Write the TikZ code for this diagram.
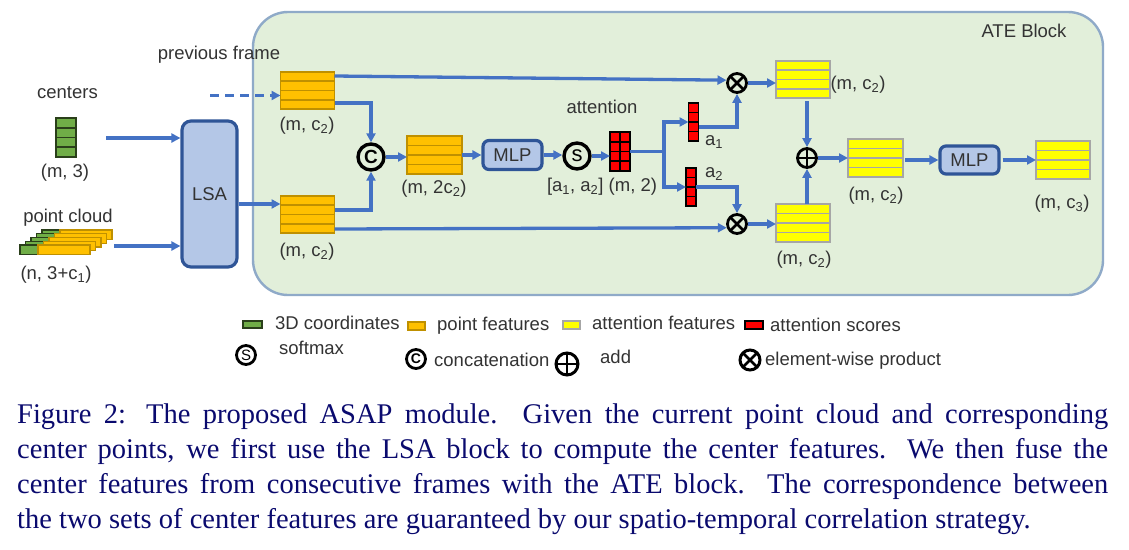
\documentclass[tikz,border=0pt]{standalone}
\usepackage{fontspec}
\setmainfont{Liberation Sans}
\newfontfamily\capfont{Liberation Serif}
\usetikzlibrary{calc,arrows.meta}
\definecolor{ablue}{HTML}{4472C4}
\definecolor{boxfill}{HTML}{B4C7E7}
\definecolor{boxdraw}{HTML}{2F5597}
\definecolor{atefill}{HTML}{E2EFDA}
\definecolor{atedraw}{HTML}{8FAAC8}
\definecolor{orangef}{HTML}{FFC000}
\definecolor{oranged}{HTML}{BF9000}
\definecolor{yellowf}{HTML}{FFFF00}
\definecolor{yellowd}{HTML}{A6A6A6}
\definecolor{greenf}{HTML}{70AD47}
\definecolor{greend}{HTML}{2A3F1A}
\definecolor{redf}{HTML}{FF0000}
\definecolor{capcol}{RGB}{10,10,110}
\definecolor{txt}{HTML}{333333}
\newcommand\rowlines[2]{%
  \foreach \k in {0.25,0.5,0.75}{\draw[#2] ($(#1.north west)!\k!(#1.south west)$) -- ($(#1.north east)!\k!(#1.south east)$);}}
\begin{document}
\begin{tikzpicture}[x=1pt,y=-1pt,
  font=\fontsize{18.5}{21}\selectfont,
  arr/.style={ablue, line width=3.3pt, -{Triangle[length=9pt,width=9pt]}},
  ln/.style={ablue, line width=3.3pt},
  stackbox/.style={rectangle, inner sep=0pt, outer sep=0pt, minimum width=54pt, minimum height=37pt},
  obox/.style={stackbox, fill=orangef, draw=oranged, line width=1.8pt},
  ybox/.style={stackbox, fill=yellowf, draw=yellowd, line width=1.8pt},
  rbar/.style={rectangle, inner sep=0pt, outer sep=0pt, fill=redf, draw=black, line width=1.6pt, minimum width=10pt, minimum height=38pt},
  mlp/.style={rectangle, rounded corners=6pt, fill=boxfill, draw=boxdraw, line width=3.2pt, minimum width=59pt, minimum height=29pt, inner sep=0pt, text=txt},
  opc/.style={circle, draw=black, line width=3.4pt, minimum size=26pt, inner sep=0pt},
  otimes/.style={circle, draw=black, line width=2.8pt, minimum size=19pt, inner sep=0pt,
    path picture={\draw[black, line width=2.8pt] (path picture bounding box.north west) -- (path picture bounding box.south east) (path picture bounding box.north east) -- (path picture bounding box.south west);}},
  oplus/.style={circle, draw=black, line width=2.8pt, minimum size=19pt, inner sep=0pt,
    path picture={\draw[black, line width=2.8pt] (path picture bounding box.north) -- (path picture bounding box.south) (path picture bounding box.west) -- (path picture bounding box.east);}},
  lbl/.style={inner sep=0pt, text=txt, text height=13pt, text depth=4pt},
  leg/.style={rectangle, inner sep=0pt, minimum width=18pt, minimum height=8pt, line width=1.6pt},
  capline/.style={anchor=base west, inner sep=0pt, text=capcol, font=\capfont\fontsize{28.5}{35}\selectfont}
]
\useasboundingbox (0,0) rectangle (1129,549);
\fill[white] (0,0) rectangle (1129,549);

% ATE block
\node[rectangle, rounded corners=35pt, fill=atefill, draw=atedraw, line width=2.4pt, minimum width=850pt, minimum height=283pt, inner sep=0pt] (ate) at (678,153.5) {};
\node[lbl] (atet) at (1024,33) {ATE Block};

% inputs
\node[lbl] (tcent) at (67.5,94) {centers};
\node[rectangle, inner sep=0pt, outer sep=0pt, fill=greenf, draw=greend, line width=1.8pt, minimum width=20pt, minimum height=39pt] (g) at (66,137.5) {};
\rowlines{g}{greend, line width=1.8pt}
\node[lbl] (tm3) at (65,173) {(m, 3)};
\node[lbl] (tpc) at (68,218) {point cloud};
\foreach \i in {4,3,2,1,0}{
  \fill[greenf, draw=greend, line width=1.2pt] ({20+5.5*\i},{245-3.75*\i}) rectangle ++(18,9.5);
  \fill[orangef, draw=oranged, line width=1.2pt] ({38+5.5*\i},{245-3.75*\i}) rectangle ++(52,9.5);
}
\node[lbl] (tn3) at (56,275) {(n, 3+c\textsubscript{1})};
\node[lbl] (tprev) at (219,55) {previous frame};

% LSA
\node[rectangle, rounded corners=9pt, fill=boxfill, draw=boxdraw, line width=3.2pt, minimum width=55pt, minimum height=146pt, inner sep=0pt, text=txt] (lsa) at (209.5,194) {LSA};

% point features
\node[obox] (p1) at (307.5,90.5) {};
\rowlines{p1}{oranged, line width=1.8pt}
\node[obox] (p2) at (307.5,214.5) {};
\rowlines{p2}{oranged, line width=1.8pt}
\node[lbl] (tp1) at (307,126) {(m, c\textsubscript{2})};
\node[lbl] (tp2) at (307,252) {(m, c\textsubscript{2})};

\node[opc, font=\bfseries\fontsize{19}{19}\selectfont] (cc) at (371,157) {C};
\node[obox, minimum width=55pt, minimum height=38pt] (p3) at (434.5,155) {};
\rowlines{p3}{oranged, line width=1.8pt}
\node[lbl] (tp3) at (434,189) {(m, 2c\textsubscript{2})};
\node[mlp] (mlp1) at (512.5,155) {MLP};
\node[opc, font=\fontsize{22}{22}\selectfont] (ss) at (577,156) {s};

% attention scores
\node[rbar, minimum width=20pt, minimum height=39pt] (att) at (620,151.5) {};
\draw[black, line width=1.6pt] (att.north) -- (att.south);
\rowlines{att}{black, line width=1.6pt}
\node[lbl] (tatt) at (602,109) {attention};
\node[lbl] (tatt2) at (602,187) {[a\textsubscript{1}, a\textsubscript{2}] (m, 2)};
\node[rbar] (a1) at (693.5,122) {};
\rowlines{a1}{black, line width=1.6pt}
\node[rbar] (a2) at (691,187) {};
\rowlines{a2}{black, line width=1.6pt}
\node[lbl] (ta1) at (714,141) {a\textsubscript{1}};
\node[lbl] (ta2) at (714,173) {a\textsubscript{2}};

\node[otimes] (ot1) at (737,83) {};
\node[otimes] (ot2) at (737,224) {};

% attention features
\node[ybox] (y1) at (803,79.5) {};
\rowlines{y1}{yellowd, line width=1.8pt}
\node[ybox, minimum height=38pt] (y2) at (803,223) {};
\rowlines{y2}{yellowd, line width=1.8pt}
\node[lbl] (ty1) at (858,85) {(m, c\textsubscript{2})};
\node[lbl] (ty2) at (804,260) {(m, c\textsubscript{2})};
\node[oplus] (op) at (807,158) {};
\node[ybox, minimum width=55pt, minimum height=38pt] (y3) at (875.5,158) {};
\rowlines{y3}{yellowd, line width=1.8pt}
\node[lbl] (ty3) at (876,196) {(m, c\textsubscript{2})};
\node[mlp, minimum height=28pt] (mlp2) at (969.5,160) {MLP};
\node[ybox, minimum height=38pt] (y4) at (1063,160) {};
\rowlines{y4}{yellowd, line width=1.8pt}
\node[lbl] (ty4) at (1062,204) {(m, c\textsubscript{3})};

% connectors
\coordinate (cstart) at (106,138);
\draw[arr] (cstart) -- (lsa.west |- cstart);
\coordinate (pcstart) at (114,246);
\draw[arr] (pcstart) -- (lsa.west |- pcstart);
\coordinate (prev) at (210,95.5);
\draw[arr, dash pattern=on 9pt off 6pt] (prev) -- (p1.west |- prev);
\coordinate (l2) at ($(lsa.east)+(0,10)$);
\draw[arr] (l2) -- (p2.west |- l2);
\coordinate (p1a) at ($(p1.north east)+(0,4)$);
\draw[arr] (p1a) -- (ot1.165);
\coordinate (p1b) at ($(p1.south east)+(0,-6)$);
\draw[arr] (p1b) -| (cc.north);
\coordinate (p2a) at ($(p2.north east)+(0,14)$);
\draw[arr] (p2a) -| (cc.south);
\coordinate (p2b) at ($(p2.south east)+(0,-4)$);
\draw[arr] (p2b) -- (ot2.200);
\draw[arr] (cc.east) -- (p3.west |- cc.east);
\draw[arr] (p3.east) -- (mlp1.west);
\draw[arr] (mlp1.east) -- (ss.west |- mlp1.east);
\draw[arr] (ss.east) -- (att.west |- ss.east);
\coordinate (split) at ($(att.east)+(34,0)$);
\draw[ln] (att.east) -- (split);
\draw[arr] (split) |- (a1.west);
\draw[arr] (split) |- (a2.west);
\coordinate (a1o) at ($(a1.east)+(0,5)$);
\draw[arr] (a1o) -| (ot1.south);
\draw[arr] (a2.east) -| (ot2.north);
\draw[arr] (ot1.east) -- (y1.west |- ot1.east);
\draw[arr] (ot2.east) -- (y2.west |- ot2.east);
\coordinate (y1o) at ($(op |- y1.south)+(0,3)$);
\draw[arr] (y1o) -- (op.north);
\draw[arr] (op |- y2.north) -- (op.south);
\draw[arr] (op.east) -- (y3.west |- op.east);
\coordinate (y3o) at ($(y3.east |- mlp2.west)+(2,0)$);
\draw[arr] (y3o) -- (mlp2.west);
\coordinate (m2o) at ($(mlp2.east)+(2,0)$);
\draw[arr] (m2o) -- (y4.west |- m2o);

% legend
\node[leg, fill=greenf, draw=greend, minimum width=19pt, minimum height=7pt] (lg1) at (252.5,324.5) {};
\node[lbl, anchor=west] (lt1) at (275,325) {3D coordinates};
\node[leg, fill=orangef, draw=oranged, minimum width=17pt] (lg2) at (416.5,326) {};
\node[lbl, anchor=west] (lt2) at (437,326) {point features};
\node[leg, fill=yellowf, draw=yellowd, minimum width=17pt] (lg3) at (571.5,325) {};
\node[lbl, anchor=west] (lt3) at (592,325) {attention features};
\node[leg, fill=redf, draw=black] (lg4) at (754,325) {};
\node[lbl, anchor=west] (lt4) at (770,327) {attention scores};
\node[opc, line width=2.8pt, minimum size=19pt, font=\fontsize{15}{15}\selectfont] (ls) at (246,355) {S};
\node[lbl, anchor=west] (lt5) at (279,350) {softmax};
\node[opc, line width=2.8pt, minimum size=19pt, font=\bfseries\fontsize{14}{14}\selectfont] (lc) at (416,359) {C};
\node[lbl, anchor=west] (lt6) at (434,362) {concatenation};
\node[oplus, line width=3pt, minimum size=22pt] (lp) at (567,364) {};
\node[lbl, anchor=west] (lt7) at (600,359) {add};
\node[otimes, line width=3pt, minimum size=20pt] (lx) at (750,360) {};
\node[lbl, anchor=west] (lt8) at (765,361) {element-wise product};

% caption
\node[capline] (cap1) at (17,423) {\makebox[1091pt][s]{Figure 2: The proposed ASAP module. Given the current point cloud and corresponding}};
\node[capline] (cap2) at (17,458) {\makebox[1091pt][s]{center points, we first use the LSA block to compute the center features. We then fuse the}};
\node[capline] (cap3) at (17,493) {\makebox[1091pt][s]{center features from consecutive frames with the ATE block. The correspondence between}};
\node[capline] (cap4) at (17,528) {the two sets of center features are guaranteed by our spatio-temporal correlation strategy.};
\end{tikzpicture}
\end{document}
